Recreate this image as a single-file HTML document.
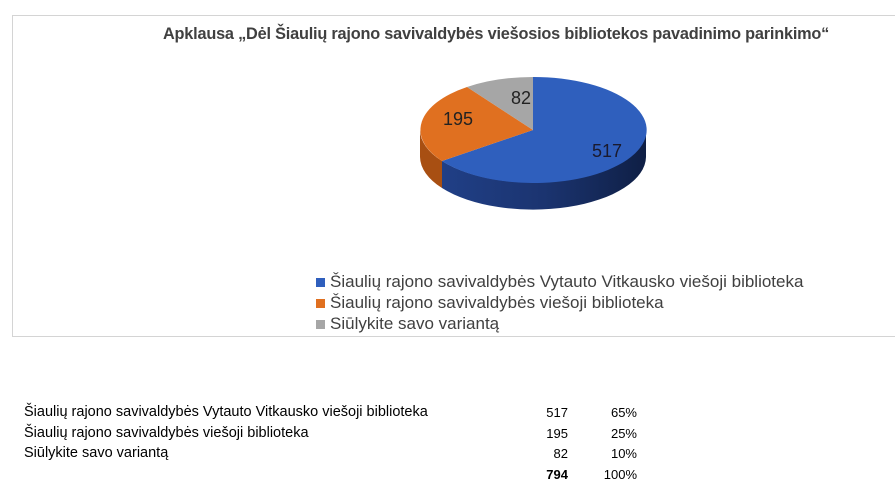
<!DOCTYPE html>
<html><head><meta charset="utf-8"><style>
body{margin:0;width:895px;height:488px;background:#fff;font-family:"Liberation Sans",sans-serif;position:relative;overflow:hidden}
.frame{position:absolute;left:12px;top:15px;width:900px;height:322px;border:1px solid #d4d4d4;box-sizing:border-box}
.t{position:absolute;left:163px;top:25px;font-size:16.3px;font-weight:bold;color:#404040;letter-spacing:-0.2px;white-space:nowrap}
.lg{position:absolute;left:316px;font-size:17px;color:#404040;white-space:nowrap}
.lg i{display:inline-block;width:9px;height:9px;margin-right:5px}
.r{position:absolute;font-size:14.5px;color:#000;white-space:nowrap}
</style></head><body>
<div class="frame"></div>
<div class="t">Apklausa „Dėl Šiaulių rajono savivaldybės viešosios bibliotekos pavadinimo parinkimo“</div>
<svg width="895" height="488" style="position:absolute;left:0;top:0">
<defs><linearGradient id="bs" x1="0" x2="1"><stop offset="0" stop-color="#203f86"/><stop offset="0.5" stop-color="#1b3470"/><stop offset="1" stop-color="#0f1f45"/></linearGradient></defs>
<path d="M646,130 A113,53 0 0 1 442,161 L442,188 A113,53 0 0 0 646,157 Z" fill="url(#bs)"/>
<path d="M442,161 A113,53 0 0 1 420,130 L420,157 A113,53 0 0 0 442,188 Z" fill="#a84f12"/>
<path d="M533,130 L533,77 A113,53 0 1 1 442,161 Z" fill="#2f5fbd"/>
<path d="M533,130 L442,161 A113,53 0 0 1 467,87 Z" fill="#e07020"/>
<path d="M533,130 L467,87 A113,53 0 0 1 533,77 Z" fill="#a6a6a6"/>
<text x="607" y="157" font-size="18" text-anchor="middle" fill="#1a1a2e" font-family="Liberation Sans">517</text>
<text x="458" y="125" font-size="18" text-anchor="middle" fill="#222" font-family="Liberation Sans">195</text>
<text x="521" y="104" font-size="18" text-anchor="middle" fill="#222" font-family="Liberation Sans">82</text>
</svg>
<div class="lg" style="top:272px"><i style="background:#2f5fbd"></i>Šiaulių rajono savivaldybės Vytauto Vitkausko viešoji biblioteka</div>
<div class="lg" style="top:293px"><i style="background:#e07020"></i>Šiaulių rajono savivaldybės viešoji biblioteka</div>
<div class="lg" style="top:314px"><i style="background:#a6a6a6"></i>Siūlykite savo variantą</div>
<div class="r" style="left:24px;top:404px">Šiaulių rajono savivaldybės Vytauto Vitkausko viešoji biblioteka</div>
<div class="r" style="left:24px;top:425px">Šiaulių rajono savivaldybės viešoji biblioteka</div>
<div class="r" style="left:24px;top:445px">Siūlykite savo variantą</div>
<div class="r" style="left:518px;width:50px;text-align:right;top:405px;font-size:13px">517</div>
<div class="r" style="left:518px;width:50px;text-align:right;top:426px;font-size:13px">195</div>
<div class="r" style="left:518px;width:50px;text-align:right;top:446px;font-size:13px">82</div>
<div class="r" style="left:518px;width:50px;text-align:right;top:467px;font-weight:bold;font-size:13px">794</div>
<div class="r" style="left:587px;width:50px;text-align:right;top:405px;font-size:13px">65%</div>
<div class="r" style="left:587px;width:50px;text-align:right;top:426px;font-size:13px">25%</div>
<div class="r" style="left:587px;width:50px;text-align:right;top:446px;font-size:13px">10%</div>
<div class="r" style="left:587px;width:50px;text-align:right;top:467px;font-size:13px">100%</div>
</body></html>
